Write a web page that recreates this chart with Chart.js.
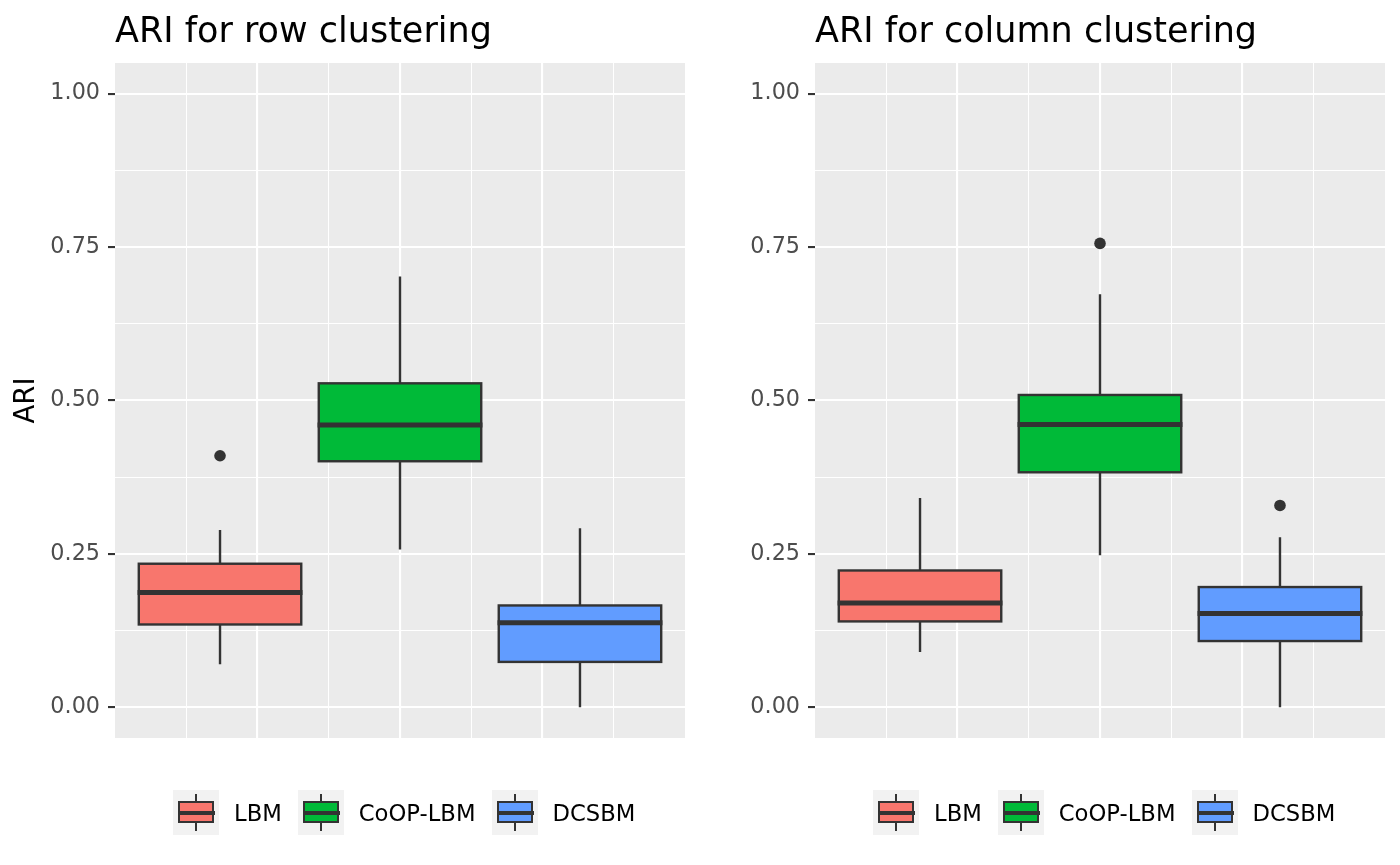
<!DOCTYPE html>
<html><head><meta charset="utf-8">
<script src="https://cdn.jsdelivr.net/npm/chart.js@4.4.1/dist/chart.umd.min.js"></script>
<style>
html,body{margin:0;padding:0;background:#fff;}
body{width:1400px;height:865px;position:relative;overflow:hidden;font-family:'DejaVu Sans',sans-serif;}
.panel{position:absolute;top:0;width:700px;height:865px;}
.legend{position:absolute;top:790px;display:flex;align-items:center;height:45px;}
.item{display:flex;align-items:center;margin-right:16px;}
.key{width:46px;height:45px;background:#F2F2F2;position:relative;flex:none;}
.key .wh{position:absolute;left:22px;width:2.4px;top:4px;height:37px;background:#333;}
.key .bx{position:absolute;left:5px;top:11px;width:32.2px;height:18.2px;border:2.4px solid #333;}
.key .md{position:absolute;left:5px;width:37px;top:21.2px;height:3.4px;background:#333;}
.lab{margin-left:15px;font-size:22.7px;color:#000;white-space:nowrap;}
</style>
</head><body>
<canvas id="c1" class="panel" style="left:0" width="700" height="865"></canvas>
<canvas id="c2" class="panel" style="left:700px" width="700" height="865"></canvas>
<div id="lg1" class="legend" style="left:173px"></div>
<div id="lg2" class="legend" style="left:873px"></div>
<script>
// ---- data ----
const groups = ['LBM', 'CoOP-LBM', 'DCSBM'];
const colors = ['#F8766D', '#00BA38', '#619CFF'];
const panelTitles = ['ARI for row clustering', 'ARI for column clustering'];
const yTickLabels = ['0.00', '0.25', '0.50', '0.75', '1.00'];
const yAxisTitle = 'ARI';

// row clustering
const rowMin     = [0.070, 0.257, 0.000];
const rowQ1      = [0.135, 0.401, 0.074];
const rowMedian  = [0.187, 0.460, 0.138];
const rowQ3      = [0.234, 0.528, 0.166];
const rowMax     = [0.289, 0.702, 0.292];
const rowOutliers = [[0.410], [], []];

// column clustering
const colMin     = [0.090, 0.248, 0.000];
const colQ1      = [0.140, 0.383, 0.108];
const colMedian  = [0.170, 0.461, 0.153];
const colQ3      = [0.223, 0.509, 0.196];
const colMax     = [0.341, 0.673, 0.277];
const colOutliers = [[], [0.756], [0.329]];

// ---- layout constants ----
const X_MIN = 0, X_MAX = 8, X_MID = 4, DODGE = 2.526, BOX_W = 2.28;
const Y_MIN = -0.05, Y_MAX = 1.05;
const center = i => X_MID + (i - 1) * DODGE;
const majorY = yTickLabels.map(Number);
const gridY = [];
majorY.forEach((v, k) => { gridY.push(v); if (k < majorY.length - 1) gridY.push((v + majorY[k + 1]) / 2); });
const isMajorY = v => majorY.some(m => Math.abs(m - v) < 1e-9);
const gridX = [1, 2, 3, 4, 5, 6, 7];
const isMajorX = v => v % 2 === 0;

Chart.defaults.font.family = "'DejaVu Sans'";

function makeChart(id, title, stats, outliers, showYTitle) {
  const plugin = {
    id: 'boxes',
    beforeDraw(chart) {
      const {ctx, chartArea: a} = chart;
      ctx.save();
      ctx.fillStyle = '#EBEBEB';
      ctx.fillRect(a.left, a.top, a.right - a.left, a.bottom - a.top);
      ctx.restore();
    },
    beforeDatasetsDraw(chart) {
      const {ctx} = chart;
      const xs = chart.scales.x, ys = chart.scales.y;
      ctx.save();
      groups.forEach((g, i) => {
        const c = center(i);
        const cx = xs.getPixelForValue(c);
        const l = xs.getPixelForValue(c - BOX_W / 2), r = xs.getPixelForValue(c + BOX_W / 2);
        const pMin = ys.getPixelForValue(stats.min[i]);
        const pQ1 = ys.getPixelForValue(stats.q1[i]);
        const pMed = ys.getPixelForValue(stats.med[i]);
        const pQ3 = ys.getPixelForValue(stats.q3[i]);
        const pMax = ys.getPixelForValue(stats.max[i]);
        ctx.strokeStyle = '#333333';
        ctx.lineWidth = 2.4;
        ctx.lineCap = 'butt';
        ctx.beginPath();
        ctx.moveTo(cx, pMax); ctx.lineTo(cx, pQ3);
        ctx.moveTo(cx, pQ1); ctx.lineTo(cx, pMin);
        ctx.stroke();
        ctx.fillStyle = colors[i];
        ctx.fillRect(l, pQ3, r - l, pQ1 - pQ3);
        ctx.strokeRect(l, pQ3, r - l, pQ1 - pQ3);
        ctx.lineWidth = 5;
        ctx.beginPath();
        ctx.moveTo(l - 1.2, pMed); ctx.lineTo(r + 1.2, pMed);
        ctx.stroke();
      });
      ctx.restore();
    },
    afterDraw(chart) {
      const {ctx, chartArea: a} = chart;
      ctx.save();
      ctx.fillStyle = '#000';
      ctx.font = "35px 'DejaVu Sans'";
      ctx.textAlign = 'left';
      ctx.textBaseline = 'alphabetic';
      ctx.fillText(title, a.left, 42);
      ctx.restore();
    }
  };

  return new Chart(document.getElementById(id), {
    type: 'scatter',
    data: {
      datasets: groups.map((g, i) => ({
        label: g,
        data: outliers[i].map(v => ({x: center(i), y: v})),
        pointRadius: 5.8,
        pointHoverRadius: 5.8,
        pointBackgroundColor: '#333333',
        pointBorderWidth: 0,
        showLine: false
      }))
    },
    options: {
      responsive: false,
      animation: false,
      events: [],
      layout: {padding: {left: 0, top: 63, right: 15, bottom: 127}},
      plugins: {legend: {display: false}, tooltip: {enabled: false}, title: {display: false}},
      scales: {
        x: {
          type: 'linear', min: X_MIN, max: X_MAX,
          afterBuildTicks: s => { s.ticks = gridX.map(v => ({value: v})); },
          afterFit: s => { s.height = 0; },
          ticks: {display: false},
          border: {display: false},
          grid: {
            color: '#FFFFFF', drawTicks: false,
            lineWidth: c => (c.tick && isMajorX(c.tick.value)) ? 2.1 : 1.05
          }
        },
        y: {
          type: 'linear', min: Y_MIN, max: Y_MAX,
          afterBuildTicks: s => { s.ticks = gridY.map(v => ({value: v})); },
          afterFit: s => { s.width = 115; },
          border: {display: false},
          title: {display: showYTitle, text: yAxisTitle, color: '#000', font: {size: 27.5}, padding: {top: 10, bottom: 0}},
          ticks: {
            autoSkip: false, padding: 8, color: '#4D4D4D', font: {size: 22.3},
            callback: v => { const k = majorY.findIndex(m => Math.abs(m - v) < 1e-9); return k >= 0 ? yTickLabels[k] : ''; }
          },
          grid: {
            color: '#FFFFFF', tickLength: 7,
            lineWidth: c => (c.tick && isMajorY(c.tick.value)) ? 2.1 : 1.05,
            tickColor: c => (c.tick && isMajorY(c.tick.value)) ? '#333333' : 'rgba(0,0,0,0)',
            tickWidth: 2.1
          }
        }
      }
    },
    plugins: [plugin]
  });
}

function makeLegend(id) {
  const el = document.getElementById(id);
  groups.forEach((g, i) => {
    const it = document.createElement('div');
    it.className = 'item';
    it.innerHTML = '<div class="key"><div class="wh"></div><div class="bx" style="background:' + colors[i] +
      '"></div><div class="md"></div></div><span class="lab"></span>';
    it.querySelector('.lab').textContent = g;
    el.appendChild(it);
  });
}

makeChart('c1', panelTitles[0], {min: rowMin, q1: rowQ1, med: rowMedian, q3: rowQ3, max: rowMax}, rowOutliers, true);
makeChart('c2', panelTitles[1], {min: colMin, q1: colQ1, med: colMedian, q3: colQ3, max: colMax}, colOutliers, false);
makeLegend('lg1');
makeLegend('lg2');
</script>
</body></html>
